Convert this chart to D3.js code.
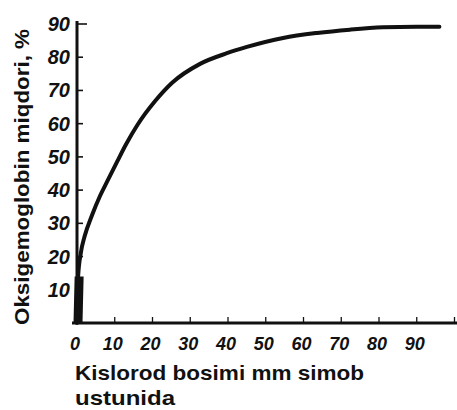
<!DOCTYPE html>
<html>
<head>
<meta charset="utf-8">
<script src="https://cdn.jsdelivr.net/npm/d3@7"></script>
<style>
  html,body{margin:0;padding:0;background:#fff;}
  svg{display:block;}
</style>
</head>
<body>
<div id="chart"></div>
<script>
(function(){
  const ink="#111";
  const pressure=[0,0.3,1,2,4,6,8,10.6,13,16,20.7,25.2,32.6,39.7,45,54.6,63.6,72.3,81,90,96];
  const saturation=[0,14,21,26,32.5,38,42.6,48.5,53.8,59.6,66.8,72.3,78,81.2,83.1,85.8,87.3,88.3,89,89.2,89.2];
  const xTicks=[0,10,20,30,40,50,60,70,80,90];
  const xMarks=[10,20,30,40,50,60,70,80,90,100];
  const yTicks=[10,20,30,40,50,60,70,80,90];
  const yTitle="Oksigemoglobin miqdori, %";
  const xTitle=["Kislorod bosimi mm simob","ustunida"];

  const W=457,H=410;
  const svg=d3.select("#chart").append("svg").attr("width",W).attr("height",H);
  const x=d3.scaleLinear().domain([0,100]).range([77,454.5]);
  const y=d3.scaleLinear().domain([0,90]).range([323,24]);

  // axes drawn as plain strokes, like the printed figure
  svg.append("line").attr("x1",x(0)-5).attr("x2",W)
    .attr("y1",y(0)).attr("y2",y(0))
    .attr("stroke",ink).attr("stroke-width",3);
  svg.append("line").attr("x1",x(0)).attr("x2",x(0))
    .attr("y1",y(90)-3).attr("y2",y(0)+1)
    .attr("stroke",ink).attr("stroke-width",3);

  svg.selectAll(".ytick").data(yTicks).join("line")
    .attr("x1",x(0)).attr("x2",d=>x(0)+(d===90?10:6))
    .attr("y1",d=>y(d)).attr("y2",d=>y(d))
    .attr("stroke",ink).attr("stroke-width",1.6);

  svg.selectAll(".xtick").data(xMarks).join("line")
    .attr("x1",d=>x(d)).attr("x2",d=>x(d))
    .attr("y1",y(0)).attr("y2",y(0)-6)
    .attr("stroke",ink).attr("stroke-width",1.3);

  svg.selectAll(".ylab").data(yTicks).join("text")
    .attr("x",70).attr("y",d=>y(d)+7)
    .attr("text-anchor","end")
    .attr("font-family","Liberation Sans, Arial, sans-serif")
    .attr("font-style","italic").attr("font-weight","bold")
    .attr("font-size",20).attr("fill",ink)
    .text(d=>d);

  svg.selectAll(".xlab").data(xTicks).join("text")
    .attr("x",d=>x(d)-2).attr("y",350)
    .attr("text-anchor","middle")
    .attr("font-family","Liberation Sans, Arial, sans-serif")
    .attr("font-style","italic").attr("font-weight","bold")
    .attr("font-size",18).attr("fill",ink)
    .text(d=>d);

  const pts=pressure.map((p,i)=>[p,saturation[i]]);

  // heavy ink blob where the curve meets the axis
  svg.append("path").datum(pts.slice(0,2))
    .attr("d",d3.line().x(d=>x(d[0])+1).y(d=>y(d[1])))
    .attr("fill","none").attr("stroke",ink).attr("stroke-width",9);

  svg.append("path").datum(pts)
    .attr("d",d3.line().x(d=>x(d[0])).y(d=>y(d[1])).curve(d3.curveMonotoneX))
    .attr("fill","none").attr("stroke",ink).attr("stroke-width",4)
    .attr("stroke-linecap","round");

  svg.append("text")
    .attr("transform",`translate(29,${y(0)+2}) rotate(-90)`)
    .attr("font-family","Liberation Sans, Arial, sans-serif")
    .attr("font-weight","bold").attr("font-size",21).attr("fill",ink)
    .attr("textLength",296).attr("lengthAdjust","spacingAndGlyphs")
    .text(yTitle);

  svg.selectAll(".xtitle").data(xTitle).join("text")
    .attr("x",75).attr("y",(d,i)=>380+i*25)
    .attr("font-family","Liberation Sans, Arial, sans-serif")
    .attr("font-weight","bold").attr("font-size",21).attr("fill",ink)
    .attr("textLength",(d,i)=>i===0?289:100).attr("lengthAdjust","spacingAndGlyphs")
    .text(d=>d);
})();
</script>
</body>
</html>
